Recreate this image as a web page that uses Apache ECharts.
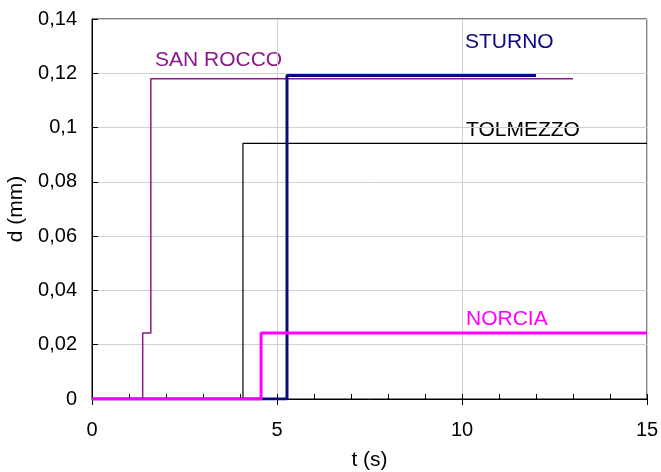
<!DOCTYPE html>
<html>
<head>
<meta charset="utf-8">
<script src="https://cdn.jsdelivr.net/npm/echarts@6/dist/echarts.min.js"></script>
<style>
  html, body { margin: 0; padding: 0; background: #fff; }
  #chart { width: 661px; height: 472px; }
</style>
</head>
<body>
<div id="chart"></div>
<script>
// step records: [t (s), d (mm)]
var sanRocco = [[0, 0], [1.37, 0], [1.37, 0.0243], [1.59, 0.0243], [1.59, 0.118], [13.0, 0.118]];
var sturno   = [[0, 0], [5.27, 0], [5.27, 0.1192], [12.0, 0.1192]];
var tolmezzo = [[0, 0], [4.08, 0], [4.08, 0.0942], [15.0, 0.0942]];
var norcia   = [[0, 0], [4.57, 0], [4.57, 0.0243], [15.0, 0.0243]];

var seriesNames  = ['TOLMEZZO', 'SAN ROCCO', 'STURNO', 'NORCIA'];
var seriesColors = ['#000000', '#8a1a8a', '#0a0a80', '#ff00ff'];
var seriesWidths = [1.2, 1.5, 3, 3];
var seriesData   = [tolmezzo, sanRocco, sturno, norcia];

var fontName = 'Liberation Sans';

var series = seriesData.map(function (d, i) {
    return {
        name: seriesNames[i],
        type: 'line',
        xAxisIndex: 1,
        data: d,
        symbol: 'none',
        animation: false,
        lineStyle: { color: seriesColors[i], width: seriesWidths[i] }
    };
});

var myChart = echarts.init(document.getElementById('chart'));
var option = {
    backgroundColor: '#fff',
    animation: false,
    grid: {
        left: 92, right: 14, top: 19, bottom: 73,
        outerBoundsMode: 'none', containLabel: false,
        show: true, borderColor: '#000', borderWidth: 1
    },
    xAxis: [
        {   // minor ticks, inside
            type: 'value', min: 0, max: 15, interval: 1, position: 'bottom',
            axisLine: { show: false },
            axisTick: { show: true, inside: true, length: 5, lineStyle: { color: '#000' } },
            axisLabel: { show: false },
            splitLine: { show: false }
        },
        {   // major ticks + labels
            type: 'value', min: 0, max: 15, interval: 5, position: 'bottom',
            name: 't (s)', nameLocation: 'middle', nameGap: 51,
            nameTextStyle: { fontFamily: fontName, fontSize: 21, color: '#000' },
            axisLine: { show: true, lineStyle: { color: '#000', width: 1 } },
            axisTick: { show: true, inside: false, length: 6, lineStyle: { color: '#000' } },
            axisLabel: { fontFamily: fontName, fontSize: 20, color: '#000', margin: 21 },
            splitLine: { show: true, lineStyle: { color: '#d0d0d0', width: 1 } }
        }
    ],
    yAxis: {
        type: 'value', min: 0, max: 0.14, interval: 0.02,
        name: 'd (mm)', nameLocation: 'middle', nameGap: 62, nameRotate: 90,
        nameTextStyle: { fontFamily: fontName, fontSize: 21, color: '#000' },
        axisLine: { show: true, lineStyle: { color: '#000', width: 1 } },
        axisTick: { show: true, inside: true, length: 6, lineStyle: { color: '#000' } },
        axisLabel: {
            fontFamily: fontName, fontSize: 20, color: '#000', margin: 15,
            formatter: function (v) { return String(+v.toFixed(2)).replace('.', ','); }
        },
        splitLine: { show: true, lineStyle: { color: '#d0d0d0', width: 1 } }
    },
    series: series,
    graphic: [
        { type: 'text', left: 155, top: 50, style: { text: 'SAN ROCCO', fill: '#8a1a8a', font: '21px "Liberation Sans"' } },
        { type: 'text', left: 465, top: 32, style: { text: 'STURNO', fill: '#0a0a80', font: '21px "Liberation Sans"' } },
        { type: 'text', left: 466, top: 120, style: { text: 'TOLMEZZO', fill: '#000', font: '21px "Liberation Sans"' } },
        { type: 'text', left: 466, top: 309, style: { text: 'NORCIA', fill: '#ff00ff', font: '21px "Liberation Sans"' } }
    ]
};
myChart.setOption(option);
</script>
</body>
</html>
